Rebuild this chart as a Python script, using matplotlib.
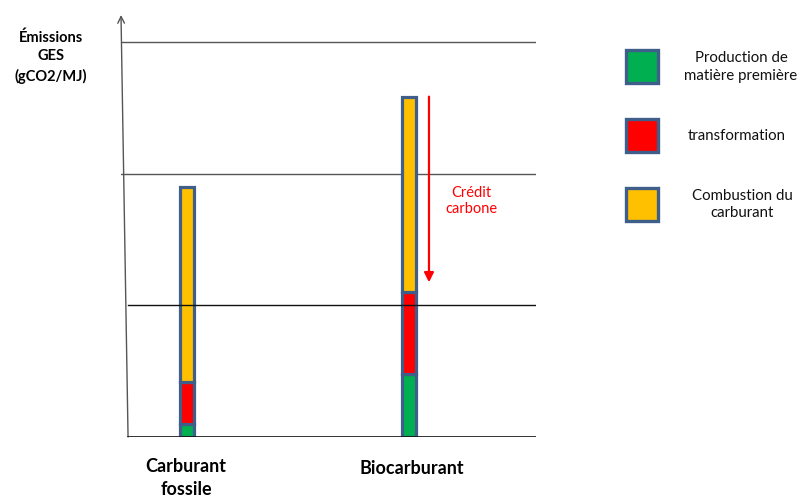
import matplotlib.pyplot as plt
from matplotlib.patches import Rectangle

# emissions par poste (unités de graduation)
categories = ['Carburant\nfossile', 'Biocarburant']
production = [0.10, 0.475]
transformation = [0.32, 0.63]
combustion = [1.48, 1.48]
credit_carbone = 1.41
grid_levels = [1, 2, 3]

legend_labels = ['Production de\nmatière première', 'transformation', 'Combustion du\ncarburant']
colors = ['#00b050', '#ff0000', '#ffc000']
edge = '#3f5f8a'

plt.rcParams['font.family'] = ['Lato', 'DejaVu Sans']

W, H = 805, 498
fig = plt.figure(figsize=(W / 100, H / 100), dpi=100)

def fx(px):
    return px / W

def fy(py):
    return 1 - py / H

ax = fig.add_axes([fx(121), fy(437), fx(536) - fx(121), fy(15) - fy(437)])
ax.set_xlim(-0.297, 1.572)
ax.set_ylim(0, 3.205)
ax.axis('off')

x = [0, 1]
width = 0.062
bottom = [0, 0]
for vals, c in zip([production, transformation, combustion], colors):
    ax.bar(x, vals, width, bottom=bottom, color=c, edgecolor=edge, linewidth=2.3, zorder=3)
    bottom = [b + v for b, v in zip(bottom, vals)]

# grille : la première ligne passe au-dessus des barres
for lvl in grid_levels:
    if lvl == 1:
        ax.axhline(lvl, xmin=0.017, xmax=1, color='#111111', lw=1.0, zorder=5)
    else:
        ax.axhline(lvl, xmin=0.0, xmax=1, color='#555555', lw=1.0, zorder=1)
ax.axhline(0, xmin=0.017, xmax=1, color='#111111', lw=1.2, zorder=5)

# axe vertical avec flèche
ax.annotate('', xy=(0.0, 1.0), xycoords='axes fraction', xytext=(0.017, 0.0),
            arrowprops=dict(arrowstyle='->', color='#555555', lw=1.0,
                            mutation_scale=12, shrinkA=0, shrinkB=0))

# crédit carbone
top_bio = bottom[1]
ax.annotate('', xy=(1.09, top_bio - credit_carbone), xytext=(1.09, top_bio),
            arrowprops=dict(arrowstyle='-|>', color='#ff0000', lw=1.6,
                            mutation_scale=14, shrinkA=0, shrinkB=0))
ax.text(1.28, top_bio - 0.79, 'Crédit\ncarbone', color='#ff0000', fontsize=10.5,
        ha='center', va='center', linespacing=1.2)

# libellés
fig.text(fx(51), fy(57), 'Émissions\nGES\n(gCO2/MJ)', fontsize=10.5, fontweight='bold',
         ha='center', va='center', linespacing=1.45, color='#000000')
fig.text(fx(186), fy(478), categories[0], fontsize=13, fontweight='bold',
         ha='center', va='center', linespacing=1.45, color='#000000')
fig.text(fx(412), fy(468), categories[1], fontsize=13, fontweight='bold',
         ha='center', va='center', color='#000000')

# légende
leg_y = [67, 135.5, 204.5]
leg_tx = [741, 737, 742]
for yc, c, lab, tx in zip(leg_y, colors, legend_labels, leg_tx):
    fig.patches.append(Rectangle((fx(625.5), fy(yc + 16.5)), fx(32), fy(0) - fy(33),
                                 transform=fig.transFigure, facecolor=c,
                                 edgecolor=edge, linewidth=2.4))
    fig.text(fx(tx), fy(yc), lab, fontsize=10.8, ha='center', va='center',
             linespacing=1.35, color='#111111')

fig.savefig('out.png', dpi=100)
